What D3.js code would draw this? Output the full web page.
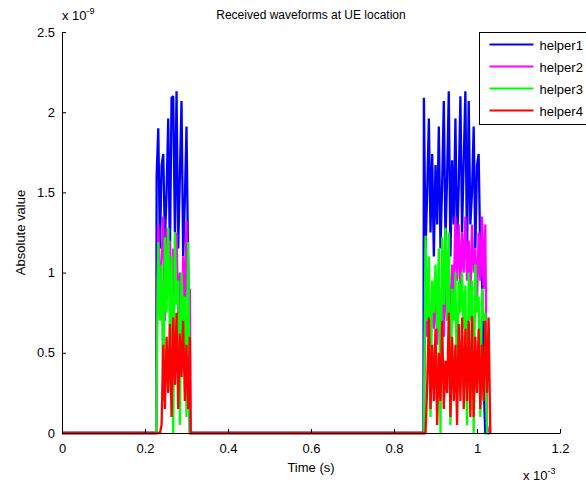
<!DOCTYPE html>
<html>
<head>
<meta charset="utf-8">
<title>Received waveforms at UE location</title>
<script src="https://d3js.org/d3.v7.min.js"></script>
<style>
body { margin: 0; background: #fff; }
text { font-family: "Liberation Sans", Arial, sans-serif; fill: #000; }
</style>
</head>
<body>
<div id="chart"></div>
<script>
// time samples (units of 1e-3 s) for the two bursts
var timeA = [0.228, 0.232, 0.236, 0.240, 0.244, 0.248, 0.252, 0.256, 0.260, 0.264, 0.268,
             0.272, 0.276, 0.280, 0.284, 0.288, 0.292, 0.296, 0.300, 0.304, 0.308];
var timeB = [0.872, 0.876, 0.880, 0.884, 0.888, 0.892, 0.896, 0.900, 0.904, 0.908, 0.912,
             0.916, 0.920, 0.924, 0.928, 0.932, 0.936, 0.940, 0.944, 0.948, 0.952, 0.956,
             0.960, 0.964, 0.968, 0.972, 0.976, 0.980, 0.984, 0.988, 0.992, 0.996, 1.000,
             1.004, 1.008, 1.012, 1.016, 1.020, 1.024, 1.028, 1.032];

// absolute values (units of 1e-9)
var helper1A = [1.60, 1.90, 1.15, 1.67, 1.74, 1.20, 1.50, 1.96, 1.10, 2.09, 2.10,
                1.25, 2.13, 1.15, 1.60, 2.07, 1.10, 1.45, 1.91, 1.05, 0.00];
var helper2A = [0.50, 1.30, 0.80, 1.10, 1.35, 0.70, 1.28, 0.90, 1.20, 0.60, 1.15,
                0.85, 1.25, 0.70, 1.00, 0.55, 1.10, 0.80, 1.32, 0.60, 0.90];
var helper3A = [0.30, 1.19, 0.70, 1.05, 0.20, 1.22, 0.75, 1.28, 0.60, 1.10, 0.00,
                1.25, 0.80, 0.95, 0.05, 1.00, 0.70, 0.85, 0.10, 1.19, 0.00];
var helper4A = [0.00, 0.00, 0.00, 0.05, 0.55, 0.15, 0.60, 0.25, 0.68, 0.10, 0.72,
                0.30, 0.75, 0.15, 0.62, 0.35, 0.70, 0.20, 0.55, 0.15, 0.60];

var helper1B = [2.09, 1.15, 1.50, 1.96, 1.25, 1.74, 1.10, 1.67, 1.30, 1.91, 1.15,
                1.55, 2.07, 1.20, 1.60, 2.13, 1.10, 1.70, 1.30, 1.96, 1.15, 1.55,
                2.10, 1.25, 1.70, 2.13, 1.10, 2.07, 1.30, 1.50, 1.91, 1.15, 1.67,
                1.74, 1.10, 1.00, 0.30, 0.00, 0.00, 0.00, 0.00];
var helper2B = [0.00, 0.95, 0.60, 0.85, 0.50, 0.90, 0.65, 0.95, 0.55, 0.80, 0.70,
                0.90, 0.60, 1.00, 0.70, 0.95, 0.75, 1.05, 0.85, 1.35, 0.95, 1.30,
                0.90, 1.25, 1.00, 1.35, 0.95, 1.20, 0.85, 1.30, 1.00, 1.15, 0.80,
                1.25, 0.95, 1.35, 0.90, 1.30, 0.05, 0.00, 0.00];
var helper3B = [0.00, 1.23, 0.70, 1.10, 0.10, 0.95, 0.75, 1.05, 0.65, 1.15, 0.00,
                1.22, 0.80, 1.28, 0.70, 1.25, 0.05, 0.90, 0.70, 1.00, 0.20, 0.95,
                0.75, 1.00, 0.65, 0.92, 0.05, 1.00, 0.70, 0.95, 0.00, 1.05, 0.75,
                0.85, 0.10, 0.90, 0.70, 0.75, 0.00, 0.00, 0.00];
var helper4B = [0.00, 0.00, 0.30, 0.72, 0.15, 0.55, 0.20, 0.65, 0.05, 0.50, 0.20,
                0.70, 0.15, 0.45, 0.25, 0.75, 0.10, 0.60, 0.20, 0.55, 0.05, 0.68,
                0.20, 0.72, 0.15, 0.65, 0.20, 0.70, 0.10, 0.73, 0.10, 0.60, 0.25,
                0.65, 0.15, 0.55, 0.20, 0.70, 0.25, 0.72, 0.00];

var names = ["helper1", "helper2", "helper3", "helper4"];
var colors = ["#0000ff", "#ff00ff", "#00ff00", "#ff0000"];
var xTicks = [0, 0.2, 0.4, 0.6, 0.8, 1, 1.2];
var yTicks = [0, 0.5, 1, 1.5, 2, 2.5];

var width = 586, height = 484;
var margin = {top: 32, right: 26, bottom: 51, left: 62};

var svg = d3.select("#chart").append("svg")
    .attr("width", width)
    .attr("height", height);

svg.append("rect").attr("width", width).attr("height", height).attr("fill", "#fff");

var x = d3.scaleLinear().domain([0, 1.2]).range([margin.left, width - margin.right]);
var y = d3.scaleLinear().domain([0, 2.5]).range([height - margin.bottom, margin.top]);

// join baseline + bursts into one trace per helper
function trace(a, b) {
  var pts = [[0, 0], [0.227, 0]];
  timeA.forEach(function(t, i) { pts.push([t, a[i]]); });
  pts.push([0.310, 0]);
  pts.push([0.871, 0]);
  timeB.forEach(function(t, i) { pts.push([t, b[i]]); });
  return pts;
}
var series = [
  trace(helper1A, helper1B),
  trace(helper2A, helper2B),
  trace(helper3A, helper3B),
  trace(helper4A, helper4B)
];

var line = d3.line()
    .x(function(d) { return x(d[0]); })
    .y(function(d) { return y(d[1]); });

svg.append("g").selectAll("path")
  .data(series)
  .enter().append("path")
    .attr("d", line)
    .attr("fill", "none")
    .attr("stroke", function(d, i) { return colors[i]; })
    .attr("stroke-width", 2.3)
    .attr("stroke-linejoin", "miter")
    .attr("stroke-miterlimit", 2);

// axes (left + bottom only, ticks pointing inward)
var xAxis = d3.axisBottom(x).tickValues(xTicks).tickSizeInner(-4).tickSizeOuter(0)
    .tickPadding(8).tickFormat(function(d) { return String(d); });
var yAxis = d3.axisLeft(y).tickValues(yTicks).tickSizeInner(-4).tickSizeOuter(0)
    .tickPadding(7).tickFormat(function(d) { return String(d); });

var gx = svg.append("g").attr("transform", "translate(0," + (height - margin.bottom) + ")").call(xAxis);
var gy = svg.append("g").attr("transform", "translate(" + margin.left + ",0)").call(yAxis);
[gx, gy].forEach(function(g) {
  g.selectAll("text").style("font-size", "13px").attr("fill", "#000");
  g.selectAll("line").attr("stroke", "#000");
  g.select(".domain").attr("stroke", "#000");
});
gx.selectAll("text").attr("dy", "0.9em");

// exponent labels
var e9 = svg.append("text").attr("x", 62).attr("y", 20).style("font-size", "13px");
e9.append("tspan").text("x 10");
e9.append("tspan").attr("dy", -6).style("font-size", "9px").text("-9");

var e3 = svg.append("text").attr("x", 523).attr("y", 480).style("font-size", "13px");
e3.append("tspan").text("x 10");
e3.append("tspan").attr("dy", -6).style("font-size", "9px").text("-3");

// title and axis labels
svg.append("text")
    .attr("x", 311).attr("y", 19)
    .attr("text-anchor", "middle")
    .style("font-size", "12px")
    .text("Received waveforms at UE location");

svg.append("text")
    .attr("x", 311).attr("y", 472)
    .attr("text-anchor", "middle")
    .style("font-size", "13px")
    .text("Time (s)");

svg.append("text")
    .attr("transform", "translate(25," + ((margin.top + height - margin.bottom) / 2) + ") rotate(-90)")
    .attr("text-anchor", "middle")
    .style("font-size", "13px")
    .text("Absolute value");

// legend
var legend = svg.append("g").attr("transform", "translate(479.5,32.5)");
legend.append("rect")
    .attr("width", 120).attr("height", 92)
    .attr("fill", "#fff").attr("stroke", "#000");
names.forEach(function(n, i) {
  var yy = 12 + i * 22;
  legend.append("line")
      .attr("x1", 10).attr("x2", 54).attr("y1", yy).attr("y2", yy)
      .attr("stroke", colors[i]).attr("stroke-width", 2);
  legend.append("text")
      .attr("x", 60).attr("y", yy + 5)
      .style("font-size", "13px")
      .text(n);
});
</script>
</body>
</html>
